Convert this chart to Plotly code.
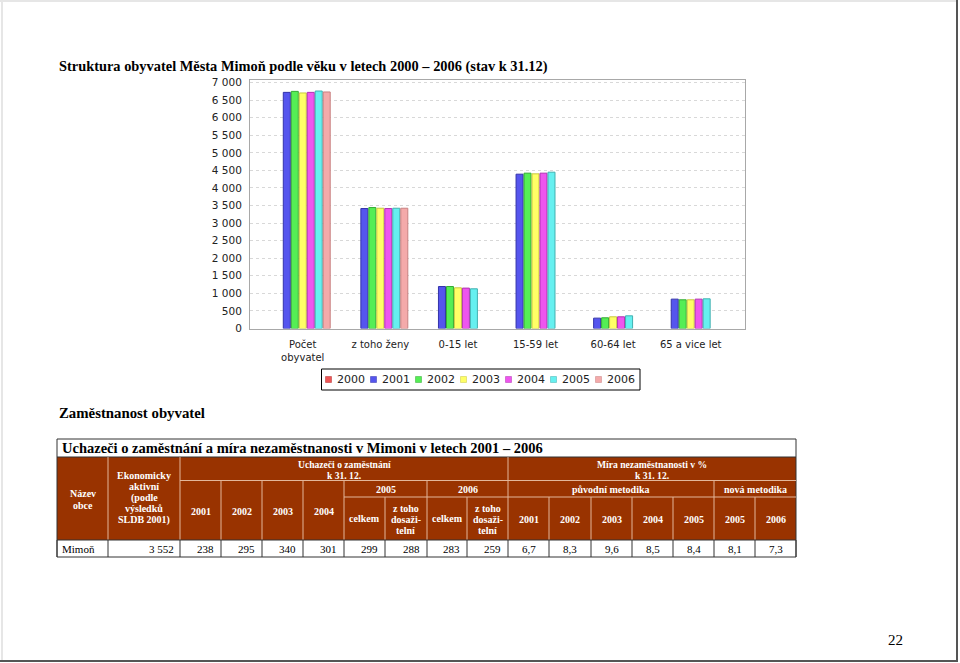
import plotly.graph_objects as go

W, H = 960, 663

# ---------------- data ----------------
categories = ["Počet<br>obyvatel", "z toho ženy", "0-15 let", "15-59 let", "60-64 let", "65 a vice let"]
years = ["2000", "2001", "2002", "2003", "2004", "2005", "2006"]
v2000 = [None, None, None, None, None, None]
v2001 = [6722, 3415, 1195, 4393, 295, 836]
v2002 = [6750, 3443, 1195, 4422, 305, 817]
v2003 = [6705, 3424, 1158, 4403, 333, 817]
v2004 = [6722, 3415, 1150, 4422, 333, 836]
v2005 = [6760, 3424, 1130, 4450, 361, 845]
v2006 = [6733, 3424, None, None, None, None]
series = [v2000, v2001, v2002, v2003, v2004, v2005, v2006]
fill_colors = ["#ee5555", "#5555ee", "#55ee55", "#ffff66", "#ee55ee", "#66f0f0", "#f4aaaa"]
edge_colors = ["#b03030", "#3333aa", "#33aa33", "#c8c840", "#b033b0", "#40b0b0", "#c88080"]
y_ticks = list(range(0, 7001, 500))
y_ticktext = ["0", "500", "1 000", "1 500", "2 000", "2 500", "3 000", "3 500",
              "4 000", "4 500", "5 000", "5 500", "6 000", "6 500", "7 000"]

# table data
tbl_name = "Mimoň"
tbl_active = "3 552"
tbl_count_years = ["2001", "2002", "2003", "2004"]
tbl_counts = ["238", "295", "340", "301"]
tbl_2005 = ["299", "288"]
tbl_2006 = ["283", "259"]
tbl_rate_years = ["2001", "2002", "2003", "2004", "2005", "2005", "2006"]
tbl_rates = ["6,7", "8,3", "9,6", "8,5", "8,4", "8,1", "7,3"]

# ---------------- helpers ----------------
def px(x):
    return x / W

def py(y):
    return 1 - y / H

shapes = []
annotations = []

def rect(x0, y0, x1, y1, fill=None, line=None, lw=1):
    shapes.append(dict(type="rect", xref="paper", yref="paper",
                       x0=px(x0), x1=px(x1), y0=py(y1), y1=py(y0),
                       fillcolor=fill if fill else "rgba(0,0,0,0)",
                       line=dict(color=line if line else "rgba(0,0,0,0)", width=lw if line else 0),
                       layer="above"))

def seg(x0, y0, x1, y1, color, lw=1):
    shapes.append(dict(type="line", xref="paper", yref="paper",
                       x0=px(x0), x1=px(x1), y0=py(y0), y1=py(y1),
                       line=dict(color=color, width=lw), layer="above"))

def text(x, y, s, size=10, color="black", family="Liberation Serif", xanchor="center"):
    annotations.append(dict(x=px(x), y=py(y), xref="paper", yref="paper", text=s,
                            showarrow=False, xanchor=xanchor, yanchor="middle",
                            font=dict(size=size, color=color, family=family)))

# ---------------- chart ----------------
fig = go.Figure()
for name, vals, fc, ec in zip(years, series, fill_colors, edge_colors):
    fig.add_trace(go.Bar(x=categories, y=vals, name=name,
                         marker=dict(color=fc, line=dict(color=ec, width=1)),
                         showlegend=False))

# page frame
seg(0, 1, 957, 1, "#e6e6e6", 2)
seg(2, 0, 2, 661, "#e6e6e6", 2)
seg(957, 0, 957, 662, "#555555", 2)
seg(0, 661, 958, 661, "#555555", 2)

# titles
text(57, 67, "<b>Struktura obyvatel Města Mimoň podle věku v letech 2000 – 2006 (stav k 31.12)</b>",
     size=14.4, xanchor="left")
text(57, 413, "<b>Zaměstnanost obyvatel</b>", size=14.8, xanchor="left")
text(895, 640, "22", size=15)

# manual legend
rect(321.5, 369, 640, 390, line="black", lw=1)
for i, (name, fc, ec) in enumerate(zip(years, fill_colors, edge_colors)):
    x0 = 325.5 + 45 * i
    rect(x0, 376.5, x0 + 6, 382.5, fill=fc, line=ec, lw=0.5)
    text(x0 + 9, 379.5, name, size=11, color="#222222", family="DejaVu Sans", xanchor="left")

# ---------------- table ----------------
brown = "#993300"
inner = "#e3b79a"
col = [57, 108, 180, 221, 262, 303, 344, 385, 427, 467, 508, 549, 591, 632, 673, 714, 755, 796]
r_title, r1, r2, r3, r_data, r_end = 439, 457, 480.5, 497, 540, 557

rect(57, r1, 796, r_data, fill=brown)
rect(57, r_title, 796, r_end, line="#333333", lw=1)
seg(57, r1, 796, r1, "#333333", 1)
text(60, 448, "<b>Uchazeči o zaměstnání a míra nezaměstnanosti v Mimoni v letech 2001 – 2006</b>",
     size=14.5, xanchor="left")

# inner header lines
for x in (108, 180, 508):
    seg(x, r1, x, r_data, inner)
seg(180, r2, 796, r2, inner)
seg(344, r3, 796, r3, inner)
for x in (221, 262, 303, 344, 427, 714):
    seg(x, r2, x, r_data, inner)
for x in (385, 467, 549, 591, 632, 673, 755):
    seg(x, r3, x, r_data, inner)

# data row lines
seg(57, r_data, 796, r_data, "#333333")
for x in col:
    seg(x, r_data, x, r_end, "#333333")

wh = "white"
hs = 10
def hb(s):
    return "<b>" + s + "</b>"

text(82.5, 493, hb("Název"), hs, wh)
text(82.5, 505, hb("obce"), hs, wh)
for i, s in enumerate(["Ekonomicky", "aktivní", "(podle", "výsledků", "SLDB 2001)"]):
    text(144, 475 + 11.3 * i, hb(s), hs, wh)
text(344, 464.5, hb("Uchazeči o zaměstnání"), 9.6, wh)
text(344, 475, hb("k 31. 12."), 9.6, wh)
text(652, 464.5, hb("Míra nezaměstnanosti v %"), 9.6, wh)
text(652, 475, hb("k 31. 12."), 9.6, wh)
for i, s in enumerate(tbl_count_years):
    text((col[2 + i] + col[3 + i]) / 2, 511, hb(s), hs, wh)
text((344 + 427) / 2, 489.5, hb("2005"), hs, wh)
text((427 + 508) / 2, 489.5, hb("2006"), hs, wh)
text((508 + 714) / 2, 489.5, hb("původní metodika"), hs, wh)
text((714 + 796) / 2, 489.5, hb("nová metodika"), hs, wh)
for c0 in (344, 427):
    text((c0 + c0 + 41) / 2, 518.5, hb("celkem"), hs, wh)
for c0 in (385, 467):
    for j, s in enumerate(["z toho", "dosaži-", "telní"]):
        text((c0 + c0 + 41.5) / 2, 508 + 11.3 * j, hb(s), hs, wh)
for i, s in enumerate(tbl_rate_years):
    text((col[10 + i] + col[11 + i]) / 2, 519, hb(s), hs, wh)

# data row
yd = 549
ds = 11
text(60, yd, tbl_name, ds, xanchor="left")
text(176, yd, tbl_active, ds, xanchor="right")
vals_right = tbl_counts + tbl_2005 + tbl_2006
for i, s in enumerate(vals_right):
    text(col[3 + i] - 5, yd, s, ds, xanchor="right")
for i, s in enumerate(tbl_rates):
    text((col[10 + i] + col[11 + i]) / 2, yd, s, ds)

# ---------------- layout ----------------
fig.update_layout(
    width=W, height=H,
    margin=dict(l=0, r=0, t=0, b=0),
    paper_bgcolor="white", plot_bgcolor="white",
    barmode="group", bargap=0.28, bargroupgap=0.12,
    shapes=shapes, annotations=annotations,
    showlegend=False,
    xaxis=dict(domain=[px(250), px(745)], range=[-0.68, 5.7], automargin=False,
               showline=True, mirror=True, linecolor="#a8a8a8", linewidth=1,
               showgrid=False, ticks="", ticklabelstandoff=6,
               tickfont=dict(family="DejaVu Sans", size=10, color="#222222")),
    yaxis=dict(domain=[py(328.5), py(80)], range=[0, 7074], automargin=False,
               tickvals=y_ticks, ticktext=y_ticktext,
               showline=True, mirror=True, linecolor="#a8a8a8", linewidth=1,
               showgrid=True, gridcolor="#d8d8d8", griddash="dot", gridwidth=1,
               zeroline=False, ticks="", ticklabelstandoff=5,
               tickfont=dict(family="DejaVu Sans", size=10.5, color="#222222")),
)

fig.write_html("out.html")
